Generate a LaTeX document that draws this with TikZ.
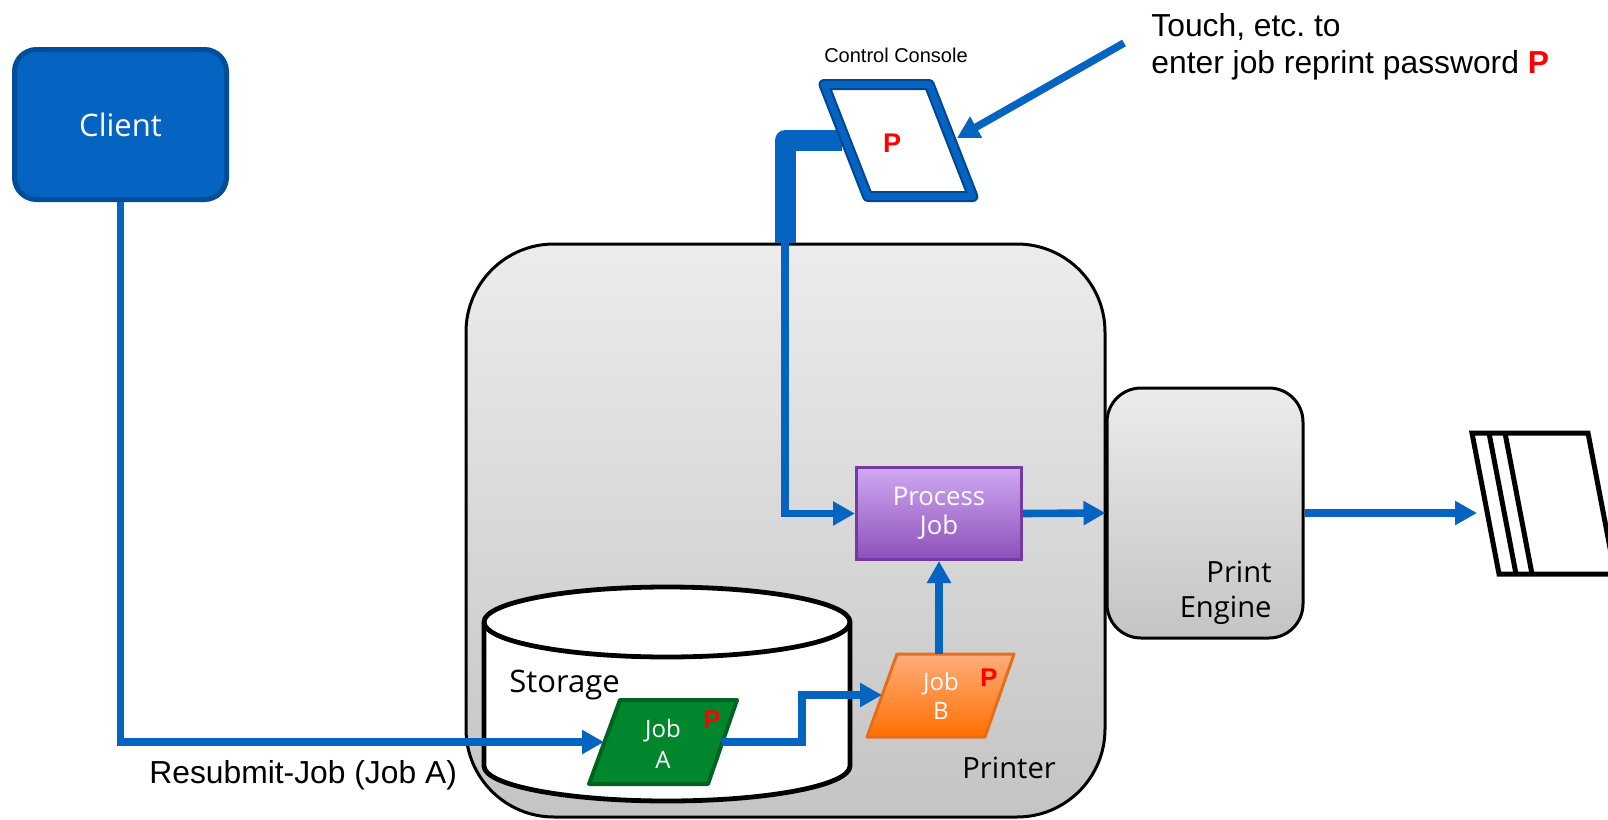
\documentclass[tikz,border=0pt]{standalone}
\usepackage{fontspec}
\setmainfont{Liberation Sans}
\newfontfamily\uifont{Open Sans}
\usetikzlibrary{arrows.meta}
\frenchspacing
\definecolor{lineblue}{RGB}{5,99,193}
\definecolor{clientborder}{RGB}{0,77,153}
\definecolor{darkblue}{RGB}{0,70,145}
\definecolor{jobgreen}{RGB}{0,135,45}
\definecolor{jobgreenborder}{RGB}{0,100,32}
\definecolor{orangetop}{RGB}{255,172,125}
\definecolor{orangebot}{RGB}{255,112,0}
\definecolor{orangeborder}{RGB}{230,110,25}
\definecolor{purpletop}{RGB}{208,168,242}
\definecolor{purplebot}{RGB}{140,80,185}
\definecolor{purpleborder}{RGB}{118,56,165}
\definecolor{graytop}{RGB}{236,236,236}
\definecolor{graybot}{RGB}{196,196,196}
\definecolor{pred}{RGB}{255,0,0}
\begin{document}
\begin{tikzpicture}[x=0.5pt,y=-0.5pt,
  conn/.style={draw=lineblue, line width=3.8pt, -{Triangle[length=11pt,width=11.5pt]}},
  thickconn/.style={draw=lineblue, line width=10.5pt, line join=round},
  pmark/.style={text=pred, font=\bfseries\fontsize{12.8pt}{14pt}\selectfont, inner sep=0pt},
  whitetxt/.style={text=white, align=center, inner sep=0pt},
  graybox/.style={draw=black, line width=1.5pt, top color=graytop, bottom color=graybot},
  uilabel/.style={inner sep=0pt, font=\uifont\fontsize{14.6pt}{17.5pt}\selectfont},
  arlabel/.style={inner sep=0pt, font=\fontsize{15.9pt}{18.5pt}\selectfont}
]
\useasboundingbox (0,0) rectangle (1608,820);

% Client
\node[draw=clientborder, line width=2.5pt, fill=lineblue, rounded corners=11pt,
      minimum width=106pt, minimum height=75pt, text=white,
      font=\uifont\fontsize{15.5pt}{18pt}\selectfont] (client) at (120.5,124.5) {Client};

% Printer
\node[graybox, rounded corners=44pt, minimum width=319.5pt, minimum height=286.5pt] (printer) at (785.5,530.5) {};
\node[uilabel, anchor=base west] (printerlabel) at (962,778) {Printer};

% Print engine
\node[graybox, rounded corners=17pt, minimum width=98pt, minimum height=125pt] (engine) at (1205,513) {};
\node[uilabel, anchor=base east, align=right] (enginelabel) at (1272,617) {Print\\Engine};

% Storage
\path[draw=black, line width=2.4pt, fill=white] (484,622) -- (484,766)
  arc[start angle=180,end angle=360,x radius=91.5pt,y radius=17.5pt] -- (850,622)
  arc[start angle=0,end angle=180,x radius=91.5pt,y radius=17.5pt] -- cycle;
\draw[line width=2.4pt] (484,622) arc[start angle=180,end angle=360,x radius=91.5pt,y radius=17.5pt];
\node[inner sep=0pt, anchor=base west, font=\uifont\fontsize{15.5pt}{18pt}\selectfont] (storagelabel) at (509,692) {Storage};

% Job A
\path[draw=jobgreenborder, line width=2pt, fill=jobgreen, line join=round] (589,784) -- (620,700) -- (737,700) -- (708,784) -- cycle;
\node[whitetxt, font=\uifont\fontsize{12pt}{15.5pt}\selectfont] (jobA) at (663,744) {Job\\A};
\node[pmark] (jobAP) at (712,720) {P};
\coordinate (jobA-w) at (604,742);
\coordinate (jobA-e) at (722,742);

% Job B
\path[draw=orangeborder, line width=1.5pt, top color=orangetop, bottom color=orangebot, line join=round] (867,737) -- (897,654) -- (1014,654) -- (985,737) -- cycle;
\node[whitetxt, font=\uifont\fontsize{12pt}{14.5pt}\selectfont] (jobB) at (941,696) {Job\\B};
\node[pmark] (jobBP) at (989,678) {P};
\coordinate (jobB-w) at (882,695);
\coordinate (jobB-n) at (939,654);

% Process Job
\node[draw=purpleborder, line width=1.5pt, top color=purpletop, bottom color=purplebot,
      minimum width=82.5pt, minimum height=46pt, text=white, align=center,
      font=\uifont\fontsize{12.9pt}{14.5pt}\selectfont] (process) at (939,513.5) {Process\\Job};

% Control console
\coordinate (console-w) at (842,140.5);
\coordinate (bend) at (785,243);
\draw[thickconn] (console-w) -| (bend);
\path[fill=white, draw=darkblue, line width=5.5pt, line join=round] (824,84.5) -- (929.2,84.5) -- (972.9,196.5) -- (867.7,196.5) -- cycle;
\draw[lineblue, line width=3.4pt, line join=round] (824,84.5) -- (929.2,84.5) -- (972.9,196.5) -- (867.7,196.5) -- cycle;
\node[pmark, font=\bfseries\fontsize{13.5pt}{15pt}\selectfont] (console) at (892,143) {P};
\node[inner sep=0pt, anchor=base, font=\fontsize{10pt}{12pt}\selectfont] (consolelabel) at (896,62) {Control Console};
\coordinate (console-e) at (957,138);
\coordinate (touch-tail) at (1124,43);

% Instruction text
\node[arlabel, anchor=base west, align=left] (touch) at (1151,73) {Touch, etc. to\\enter job reprint password {\color{pred}\bfseries P}};

% Paper output
\path[draw=black, line width=2.5pt, fill=white] (1625,574) -- (1499,574) -- (1472,433) -- (1588,433) -- (1615,574);
\draw[line width=2.5pt] (1489,433) -- (1516,574) (1505,433) -- (1532,574);
\coordinate (paper-w) at (1477,513);

% Resubmit label
\node[arlabel, anchor=base west] (resubmit) at (149,783) {Resubmit-Job (Job A)};

% Connectors
\draw[conn] (touch-tail) -- (console-e);
\draw[conn] (client.south) |- (jobA-w);
\draw[conn] (jobA-e) -- ++(80,0) |- (jobB-w);
\draw[conn] (jobB-n) -- (process.south);
\draw[conn] (bend) |- (process.west);
\draw[conn] (process.east) -- (engine.west);
\draw[conn] (engine.east) -- (paper-w);
\end{tikzpicture}
\end{document}
